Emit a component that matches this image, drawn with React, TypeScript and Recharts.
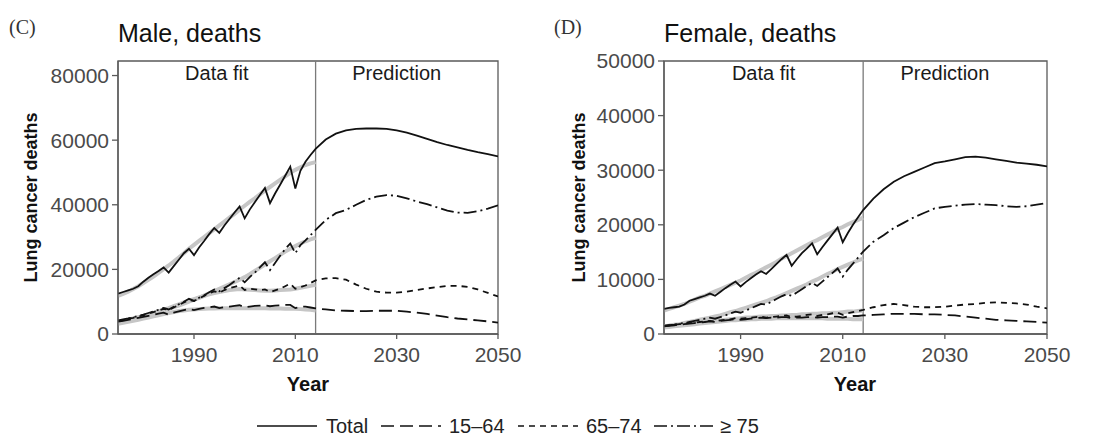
import React from 'react';
import { LineChart, Line, XAxis, YAxis, ReferenceLine, ReferenceArea } from 'recharts';

// years: annual for the fitted period, every 2 years for the prediction
const fitYears: number[] = [];
for (let y = 1975; y <= 2014; y++) fitYears.push(y);
for (let y = 2016; y <= 2050; y += 2) fitYears.push(y);
const obsYears: number[] = fitYears.slice(0, 40);

// all values in thousands of deaths
const maleTotalFit = [12.5, 13.0, 13.5, 14.0, 14.8, 16.2, 17.4, 18.5, 19.5, 20.6, 19.0, 21.0, 23.0, 25.0, 26.4, 24.4, 26.8, 28.8, 30.9, 32.8, 31.3, 33.6, 35.6, 37.6, 39.5, 35.8, 38.5, 40.8, 43.0, 45.2, 40.5, 43.5, 46.2, 49.0, 51.8, 45.0, 50.5, 53.3, 55.4, 57.3, 60.2, 62.0, 63.0, 63.5, 63.6, 63.6, 63.5, 63.0, 62.3, 61.4, 60.4, 59.4, 58.5, 57.8, 57.0, 56.3, 55.7, 55.0];
const maleTotalObs = [11.8, 12.4, 13.1, 13.9, 14.8, 15.8, 16.8, 17.8, 18.9, 20.1, 21.2, 22.4, 23.7, 25.0, 26.4, 27.6, 28.8, 30.0, 31.2, 32.4, 33.6, 34.8, 36.0, 37.2, 38.5, 39.7, 40.9, 42.0, 43.2, 44.4, 45.5, 46.6, 47.7, 48.8, 49.9, 50.8, 51.6, 52.3, 52.8, 53.2];
const male75Fit = [4.2, 4.5, 4.8, 5.2, 5.6, 6.0, 6.5, 7.0, 7.5, 8.1, 7.6, 8.4, 9.2, 10.0, 10.9, 10.3, 11.2, 12.0, 12.9, 13.8, 13.2, 14.2, 15.2, 16.3, 17.4, 16.0, 17.6, 19.0, 20.6, 22.2, 19.8, 22.0, 24.2, 26.3, 28.0, 25.0, 27.5, 29.0, 30.6, 32.2, 35.3, 37.4, 38.4, 40.0, 41.5, 42.5, 43.0, 42.8, 42.0, 41.0, 40.2, 39.2, 38.2, 37.6, 37.5, 38.0, 38.8, 39.8];
const male75Obs = [3.5, 3.9, 4.3, 4.7, 5.1, 5.5, 5.9, 6.4, 6.9, 7.3, 7.8, 8.3, 8.8, 9.4, 10.0, 10.6, 11.2, 11.9, 12.6, 13.3, 14.0, 14.7, 15.4, 16.1, 16.8, 17.6, 18.5, 19.5, 20.5, 21.5, 22.5, 23.5, 24.5, 25.5, 26.4, 27.2, 28.0, 28.7, 29.3, 29.8];
const male6574Fit = [4.0, 4.3, 4.7, 5.0, 5.4, 5.8, 6.3, 6.8, 7.3, 7.8, 7.4, 8.2, 9.0, 9.8, 10.5, 10.2, 11.0, 11.8, 12.6, 13.2, 12.8, 13.6, 14.2, 14.6, 15.0, 13.6, 14.0, 13.8, 13.6, 13.8, 13.0, 13.5, 14.0, 14.8, 15.6, 14.0, 14.5, 15.0, 15.8, 16.6, 17.2, 17.3, 16.8, 15.3, 14.0, 13.1, 12.8, 12.8, 13.1, 13.6, 14.1, 14.5, 14.9, 14.9, 14.6, 13.8, 12.7, 11.6];
const male6574Obs = [3.6, 4.0, 4.4, 4.8, 5.2, 5.6, 6.0, 6.5, 7.0, 7.5, 8.0, 8.6, 9.2, 9.8, 10.3, 10.8, 11.3, 11.8, 12.3, 12.7, 13.0, 13.3, 13.6, 13.8, 13.9, 13.8, 13.7, 13.6, 13.5, 13.4, 13.4, 13.5, 13.6, 13.7, 13.8, 14.0, 14.3, 14.6, 14.9, 15.2];
const male1564Fit = [3.8, 4.1, 4.4, 4.7, 5.0, 5.3, 5.6, 5.9, 6.3, 6.6, 6.0, 6.6, 7.0, 7.4, 7.8, 7.4, 7.8, 8.1, 8.3, 8.5, 8.0, 8.3, 8.5, 8.7, 8.9, 8.3, 8.5, 8.7, 8.8, 8.9, 8.6, 8.8, 8.9, 9.0, 9.0, 8.0, 8.4, 8.5, 8.2, 7.9, 7.6, 7.3, 7.2, 7.1, 7.1, 7.2, 7.2, 7.2, 6.9, 6.6, 6.2, 5.7, 5.2, 4.8, 4.5, 4.2, 3.9, 3.5];
const male1564Obs = [3.2, 3.5, 3.8, 4.1, 4.4, 4.8, 5.1, 5.5, 5.8, 6.2, 6.5, 6.8, 7.1, 7.3, 7.5, 7.6, 7.7, 7.8, 7.9, 7.9, 8.0, 8.0, 8.0, 8.0, 8.0, 8.0, 8.0, 8.0, 8.0, 8.0, 7.9, 7.9, 7.9, 7.8, 7.8, 7.8, 7.7, 7.6, 7.5, 7.3];

const femaleTotalFit = [4.6, 4.8, 4.9, 5.0, 5.4, 6.1, 6.4, 6.7, 7.0, 7.4, 7.0, 7.7, 8.4, 9.0, 9.6, 8.7, 9.5, 10.2, 10.9, 11.5, 11.0, 11.9, 12.8, 13.7, 14.5, 12.5, 13.7, 14.8, 15.7, 16.6, 14.6, 15.9, 17.1, 18.3, 19.5, 16.8, 18.5, 20.0, 21.4, 22.7, 24.8, 26.5, 27.9, 28.9, 29.7, 30.5, 31.3, 31.6, 32.0, 32.4, 32.5, 32.3, 32.0, 31.7, 31.4, 31.2, 31.0, 30.7];
const femaleTotalObs = [4.3, 4.6, 4.9, 5.2, 5.5, 5.9, 6.3, 6.7, 7.0, 7.4, 7.8, 8.2, 8.6, 9.0, 9.4, 9.8, 10.3, 10.8, 11.2, 11.7, 12.2, 12.7, 13.2, 13.8, 14.3, 14.8, 15.3, 15.8, 16.3, 16.8, 17.2, 17.7, 18.2, 18.7, 19.2, 19.6, 20.1, 20.5, 20.9, 21.3];
const female75Fit = [1.5, 1.6, 1.7, 1.9, 2.0, 2.2, 2.4, 2.6, 2.8, 3.0, 2.8, 3.1, 3.4, 3.8, 4.1, 3.9, 4.3, 4.7, 5.1, 5.5, 5.4, 5.9, 6.4, 6.9, 7.3, 7.0, 7.6, 8.2, 8.8, 9.4, 8.8, 9.6, 10.4, 11.2, 12.0, 10.5, 11.8, 12.9, 14.0, 15.1, 16.9, 18.1, 19.4, 20.4, 21.4, 22.2, 23.0, 23.3, 23.5, 23.7, 23.8, 23.7, 23.6, 23.4, 23.3, 23.4, 23.7, 24.0];
const female75Obs = [1.4, 1.5, 1.7, 1.8, 2.0, 2.2, 2.4, 2.6, 2.8, 3.0, 3.2, 3.4, 3.7, 4.0, 4.2, 4.5, 4.8, 5.1, 5.4, 5.7, 6.0, 6.4, 6.7, 7.1, 7.5, 7.9, 8.3, 8.7, 9.1, 9.6, 10.0, 10.5, 11.0, 11.4, 11.9, 12.3, 12.7, 13.1, 13.5, 13.8];
const female6574Fit = [1.5, 1.6, 1.7, 1.8, 1.9, 2.0, 2.1, 2.2, 2.3, 2.4, 2.3, 2.5, 2.6, 2.7, 2.9, 2.8, 2.9, 3.0, 3.1, 3.2, 3.0, 3.1, 3.2, 3.3, 3.4, 3.1, 3.2, 3.3, 3.5, 3.6, 3.3, 3.5, 3.6, 3.8, 3.9, 3.5, 3.8, 4.0, 4.2, 4.4, 4.9, 5.3, 5.5, 5.3, 5.0, 4.9, 4.9, 5.0, 5.2, 5.4, 5.5, 5.7, 5.8, 5.7, 5.6, 5.4, 5.0, 4.7];
const female6574Obs = [1.4, 1.5, 1.6, 1.7, 1.8, 1.9, 2.0, 2.1, 2.2, 2.3, 2.4, 2.5, 2.6, 2.7, 2.8, 2.9, 3.0, 3.0, 3.1, 3.2, 3.2, 3.3, 3.3, 3.4, 3.4, 3.5, 3.5, 3.6, 3.6, 3.7, 3.7, 3.8, 3.8, 3.9, 3.9, 4.0, 4.1, 4.1, 4.2, 4.3];
const female1564Fit = [1.4, 1.5, 1.6, 1.7, 1.8, 1.9, 2.0, 2.1, 2.2, 2.3, 2.2, 2.4, 2.5, 2.6, 2.7, 2.6, 2.7, 2.8, 2.9, 3.0, 2.9, 3.0, 3.0, 3.1, 3.1, 2.9, 3.0, 3.0, 3.1, 3.1, 3.0, 3.1, 3.1, 3.2, 3.2, 3.0, 3.2, 3.3, 3.3, 3.4, 3.5, 3.6, 3.7, 3.7, 3.7, 3.6, 3.6, 3.5, 3.4, 3.2, 3.0, 2.8, 2.6, 2.5, 2.4, 2.3, 2.2, 2.1];
const female1564Obs = [1.2, 1.3, 1.4, 1.5, 1.6, 1.7, 1.8, 1.9, 2.0, 2.1, 2.2, 2.3, 2.4, 2.5, 2.5, 2.6, 2.6, 2.7, 2.7, 2.8, 2.8, 2.8, 2.9, 2.9, 2.9, 2.9, 2.9, 2.9, 2.9, 2.9, 2.9, 2.9, 2.8, 2.8, 2.8, 2.8, 2.8, 2.7, 2.7, 2.7];

const xTicks = [1990, 2010, 2030, 2050];
const maleYTicks = [0, 20, 40, 60, 80];
const femaleYTicks = [0, 10, 20, 30, 40, 50];

const SERIES = [
  { name: 'Total', dash: undefined as string | undefined },
  { name: '15–64', dash: '13 6' },
  { name: '65–74', dash: '6 5' },
  { name: '≥ 75', dash: '13 4 2 4' },
];

const FONT = "'Liberation Sans', Arial, Helvetica, sans-serif";
const AXIS_GREY = '#5a5a5a';
const OBS_GREY = '#c6c6c6';

const rows = (years: number[], vals: number[]) => years.map((year, i) => ({ year, v: vals[i] }));

interface PanelProps {
  left: number;
  plotRight: number; // right edge of the plot box, page coords
  yMax: number;
  yTicks: number[];
  fit: number[][]; // total, 15-64, 65-74, >=75
  obs: number[][];
}

const Panel: React.FC<PanelProps> = ({ left, plotRight, yMax, yTicks, fit, obs }) => (
  <div style={{ position: 'absolute', left, top: 0 }}>
    <LineChart width={plotRight - left + 34} height={400} margin={{ top: 61, right: 34, bottom: 0, left: 0 }}>
      <XAxis
        type="number"
        dataKey="year"
        domain={[1975, 2050]}
        ticks={xTicks}
        allowDataOverflow
        height={66}
        tickSize={5}
        tickMargin={8}
        axisLine={{ stroke: AXIS_GREY, strokeWidth: 1.3 }}
        tickLine={{ stroke: AXIS_GREY, strokeWidth: 1.3 }}
        tick={{ fill: '#4a4a4a', fontSize: 21, fontFamily: FONT }}
      />
      <YAxis
        type="number"
        domain={[0, yMax]}
        ticks={yTicks}
        allowDataOverflow
        width={118}
        tickSize={6}
        tickMargin={3}
        tickFormatter={(v: number) => String(v * 1000)}
        axisLine={{ stroke: AXIS_GREY, strokeWidth: 1.3 }}
        tickLine={{ stroke: AXIS_GREY, strokeWidth: 1.3 }}
        tick={{ fill: '#4a4a4a', fontSize: 21, fontFamily: FONT }}
      />
      <ReferenceArea x1={1975} x2={2050} y1={0} y2={yMax} fill="none" stroke={AXIS_GREY} strokeWidth={1.3} />
      <ReferenceArea
        x1={1975}
        x2={2014}
        y1={0}
        y2={yMax}
        fill="none"
        stroke="none"
        label={{ value: 'Data fit', position: 'insideTop', offset: 5, fill: '#1a1a1a', fontSize: 20, fontFamily: FONT }}
      />
      <ReferenceArea
        x1={2014}
        x2={2046}
        y1={0}
        y2={yMax}
        fill="none"
        stroke="none"
        label={{ value: 'Prediction', position: 'insideTop', offset: 5, fill: '#1a1a1a', fontSize: 20, fontFamily: FONT }}
      />
      <ReferenceLine x={2014} stroke="#7a7a7a" strokeWidth={1.3} />
      {obs.map((vals, i) => (
        <Line
          key={`obs-${i}`}
          data={rows(obsYears, vals)}
          dataKey="v"
          type="linear"
          stroke={OBS_GREY}
          strokeWidth={4}
          dot={false}
          isAnimationActive={false}
        />
      ))}
      {fit.map((vals, i) => (
        <Line
          key={`fit-${i}`}
          data={rows(fitYears, vals)}
          dataKey="v"
          type="linear"
          stroke="#111"
          strokeWidth={1.8}
          strokeDasharray={SERIES[i].dash}
          dot={false}
          isAnimationActive={false}
        />
      ))}
    </LineChart>
  </div>
);

// legend layout (line start, text start)
const legendPos = [
  [257, 326],
  [381, 449],
  [518, 586],
  [654, 720],
];

export default function App() {
  return (
    <div style={{ position: 'absolute', left: 0, top: 0, width: 1099, height: 437, background: '#fff', overflow: 'hidden' }}>
      <Panel
        left={0}
        plotRight={498}
        yMax={84.5}
        yTicks={maleYTicks}
        fit={[maleTotalFit, male1564Fit, male6574Fit, male75Fit]}
        obs={[maleTotalObs, male1564Obs, male6574Obs, male75Obs]}
      />
      <Panel
        left={546}
        plotRight={1047}
        yMax={50}
        yTicks={femaleYTicks}
        fit={[femaleTotalFit, female1564Fit, female6574Fit, female75Fit]}
        obs={[femaleTotalObs, female1564Obs, female6574Obs, female75Obs]}
      />
      <svg width={1099} height={437} style={{ position: 'absolute', left: 0, top: 0, pointerEvents: 'none' }}>
        <g fontFamily="'Liberation Serif', 'DejaVu Serif', serif" fontSize={20} fill="#333">
          <text x={9} y={34}>(C)</text>
          <text x={554} y={34}>(D)</text>
        </g>
        <g fontFamily={FONT} fontSize={25} fill="#111">
          <text x={118} y={42}>Male, deaths</text>
          <text x={664} y={42}>Female, deaths</text>
        </g>
        <g fontFamily={FONT} fontSize={18} fontWeight="bold" fill="#111" textAnchor="middle">
          <text transform="translate(37,197.5) rotate(-90)">Lung cancer deaths</text>
          <text transform="translate(585,197.5) rotate(-90)">Lung cancer deaths</text>
          <text x={308} y={391} fontSize={20}>Year</text>
          <text x={855} y={391} fontSize={20}>Year</text>
        </g>
        <g fontFamily={FONT} fontSize={20} fill="#222">
          {SERIES.map((s, i) => (
            <g key={s.name}>
              <line
                x1={legendPos[i][0]}
                x2={legendPos[i][0] + 60}
                y1={426}
                y2={426}
                stroke="#111"
                strokeWidth={1.6}
                strokeDasharray={s.dash}
              />
              <text x={legendPos[i][1]} y={433}>{s.name}</text>
            </g>
          ))}
        </g>
      </svg>
    </div>
  );
}
